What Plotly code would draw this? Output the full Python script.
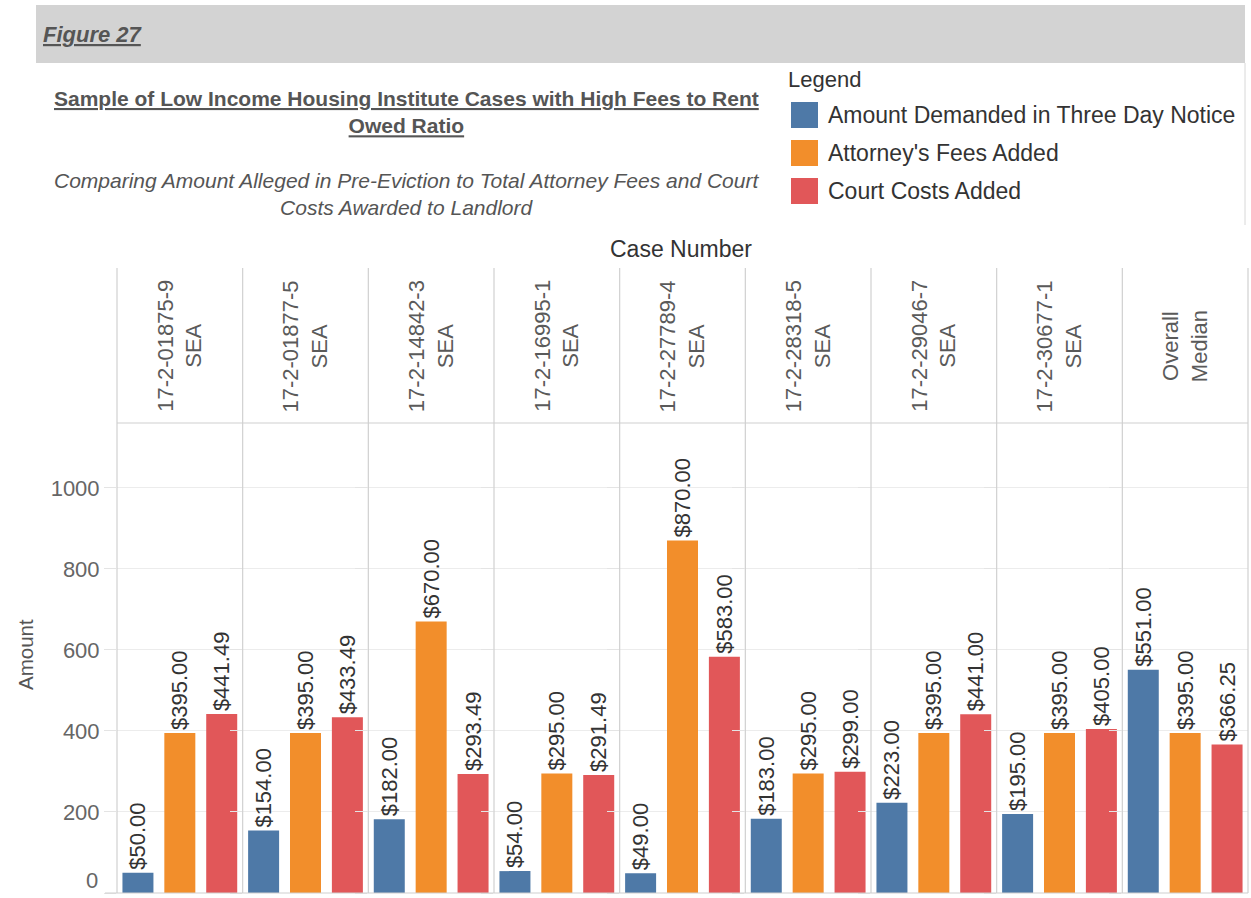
import plotly.graph_objects as go
from plotly.subplots import make_subplots

cases = ["17-2-01875-9<br>SEA", "17-2-01877-5<br>SEA", "17-2-14842-3<br>SEA",
         "17-2-16995-1<br>SEA", "17-2-27789-4<br>SEA", "17-2-28318-5<br>SEA",
         "17-2-29046-7<br>SEA", "17-2-30677-1<br>SEA", "Overall<br>Median"]
series = ["Amount Demanded in Three Day Notice", "Attorney's Fees Added", "Court Costs Added"]
demanded = [50.00, 154.00, 182.00, 54.00, 49.00, 183.00, 223.00, 195.00, 551.00]
attorney = [395.00, 395.00, 670.00, 295.00, 870.00, 295.00, 395.00, 395.00, 395.00]
court = [441.49, 433.49, 293.49, 291.49, 583.00, 299.00, 441.00, 405.00, 366.25]
colors = ["#4e79a7", "#f28e2b", "#e15759"]
yticks = [0, 200, 400, 600, 800, 1000]

values = [demanded, attorney, court]
n = len(cases)
FONT = "Arial, Liberation Sans, Helvetica, sans-serif"

W, H = 1251, 898
ML, MR, MT, MB = 117, 3, 423, 5
PW = W - ML - MR
PH = H - MT - MB


def px_x(x):
    return (x - ML) / PW


def px_y(y):
    return (H - MB - y) / PH


fig = make_subplots(rows=1, cols=n, shared_yaxes=True, horizontal_spacing=0)

for j, s in enumerate(series):
    for i in range(n):
        fig.add_trace(go.Bar(
            x=[s], y=[values[j][i]], name=s, legendgroup=s,
            showlegend=False, marker_color=colors[j], width=0.74,
            text=[f"${values[j][i]:,.2f}"], textposition="outside", textangle=-90,
            constraintext="none", cliponaxis=False,
            textfont=dict(size=22, color="#333333", family=FONT),
            marker_line_width=0,
        ), row=1, col=i + 1)

for i in range(n):
    fig.update_xaxes(type="category", categoryarray=series, range=[-0.5, 2.5],
                     showticklabels=False, showgrid=False, zeroline=False,
                     row=1, col=i + 1)

fig.update_yaxes(range=[0, 1160], tickvals=yticks,
                 ticktext=["" if v == 0 else str(v) for v in yticks],
                 showgrid=True, gridcolor="#ececec", gridwidth=1, zeroline=False,
                 ticks="outside", ticklen=12, tickcolor="#e4e4e4",
                 tickfont=dict(size=22, color="#666666", family=FONT))
fig.update_yaxes(showticklabels=True, row=1, col=1)

shapes = []
# gray header band
shapes.append(dict(type="rect", xref="paper", yref="paper",
                   x0=px_x(36), x1=px_x(1245), y0=px_y(63), y1=px_y(5),
                   fillcolor="#d3d3d3", line_width=0, layer="below"))
# right border line of header area
shapes.append(dict(type="line", xref="paper", yref="paper",
                   x0=px_x(1245), x1=px_x(1245), y0=px_y(225), y1=px_y(63),
                   line=dict(color="#d8d8d8", width=1)))
# facet vertical lines
for i in range(n + 1):
    xp = i / n
    shapes.append(dict(type="line", xref="paper", yref="paper",
                       x0=xp, x1=xp, y0=0, y1=px_y(268),
                       line=dict(color="#d0d0d0", width=1.2)))
# header bottom line and bottom axis line
shapes.append(dict(type="line", xref="paper", yref="paper", x0=0, x1=1, y0=1, y1=1,
                   line=dict(color="#d0d0d0", width=1.2)))
shapes.append(dict(type="line", xref="paper", yref="paper", x0=px_x(105), x1=1, y0=0, y1=0,
                   line=dict(color="#d0d0d0", width=1.2)))

ann = []
ann.append(dict(text="<b><i><u>Figure 27</u></i></b>", xref="paper", yref="paper",
                x=px_x(41), y=px_y(35), xanchor="left", yanchor="middle", showarrow=False,
                font=dict(size=22, color="#555555", family=FONT)))
ann.append(dict(text="<b><u>Sample of Low Income Housing Institute Cases with High Fees to Rent</u></b><br><b><u>Owed Ratio</u></b>",
                xref="paper", yref="paper", x=px_x(406), y=px_y(112), xanchor="center",
                yanchor="middle", showarrow=False, align="center",
                font=dict(size=21, color="#555555", family=FONT)))
ann.append(dict(text="<i>Comparing Amount Alleged in Pre-Eviction to Total Attorney Fees and Court</i><br><i>Costs Awarded to Landlord</i>",
                xref="paper", yref="paper", x=px_x(406), y=px_y(194), xanchor="center",
                yanchor="middle", showarrow=False, align="center",
                font=dict(size=21, color="#555555", family=FONT)))
ann.append(dict(text="Case Number", xref="paper", yref="paper", x=px_x(681), y=px_y(249),
                xanchor="center", yanchor="middle", showarrow=False,
                font=dict(size=23, color="#333333", family=FONT)))
ann.append(dict(text="Amount", xref="paper", yref="paper", x=px_x(25), y=px_y(655),
                xanchor="center", yanchor="middle", showarrow=False, textangle=-90,
                font=dict(size=20.5, color="#555555", family=FONT)))
ann.append(dict(text="0", xref="paper", yref="y", x=px_x(100), y=0, xanchor="right",
                yanchor="bottom", showarrow=False, yshift=-2,
                font=dict(size=22, color="#666666", family=FONT)))
for i, c in enumerate(cases):
    xr = "x" if i == 0 else f"x{i + 1}"
    ann.append(dict(text=c, xref=xr, yref="paper", x=series[1], y=px_y(346),
                    xanchor="center", yanchor="middle", showarrow=False, textangle=-90,
                    align="center", font=dict(size=22, color="#5a5a5a", family=FONT)))

# legend (title, swatches and labels built from the series lists)
ann.append(dict(text="Legend", xref="paper", yref="paper", x=px_x(786), y=px_y(80),
                xanchor="left", yanchor="middle", showarrow=False,
                font=dict(size=22, color="#333333", family=FONT)))
leg_y = [115, 153, 191]
for j, s in enumerate(series):
    yc = leg_y[j]
    shapes.append(dict(type="rect", xref="paper", yref="paper",
                       x0=px_x(791), x1=px_x(818), y0=px_y(yc + 13), y1=px_y(yc - 13),
                       fillcolor=colors[j], line_width=0))
    ann.append(dict(text=s, xref="paper", yref="paper", x=px_x(826), y=px_y(yc),
                    xanchor="left", yanchor="middle", showarrow=False,
                    font=dict(size=23, color="#333333", family=FONT)))

fig.update_layout(
    width=W, height=H, margin=dict(l=ML, r=MR, t=MT, b=MB),
    paper_bgcolor="white", plot_bgcolor="white",
    barmode="group", bargap=0.26, showlegend=False,
    shapes=shapes, annotations=ann,
    font=dict(family=FONT, color="#333333"),
)

fig.write_html("out.html", config={"displayModeBar": False},
               post_script="document.body.style.margin='0';document.body.style.overflow='hidden';")
